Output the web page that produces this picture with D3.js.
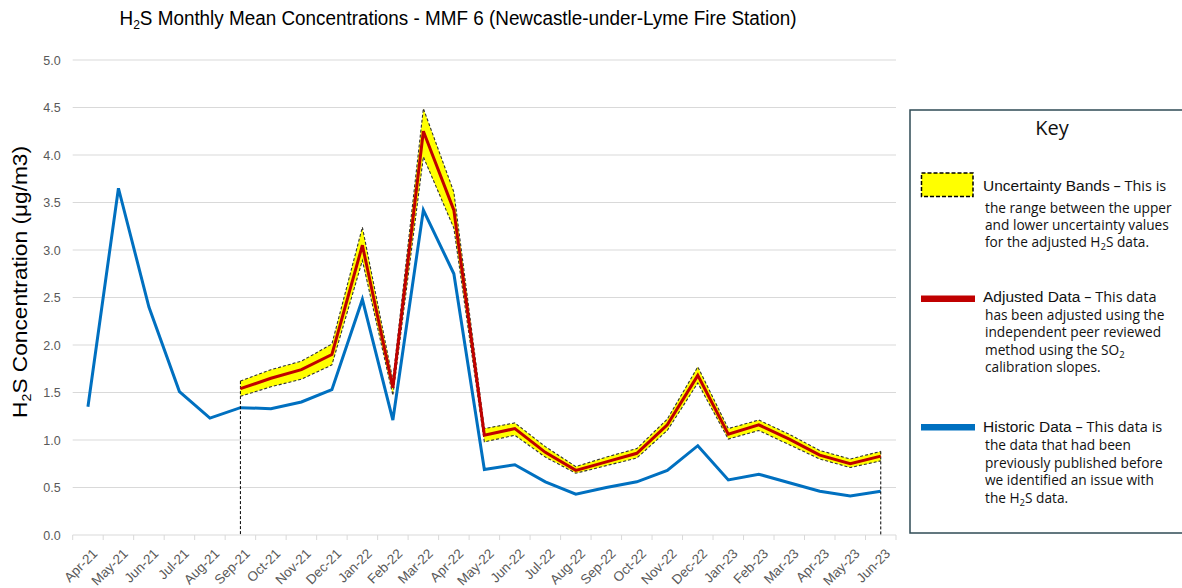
<!DOCTYPE html>
<html>
<head>
<meta charset="utf-8">
<script src="https://cdn.jsdelivr.net/npm/d3@7"></script>
<style>
  html, body { margin: 0; padding: 0; background: #fff; }
  svg { display: block; }
</style>
</head>
<body>
<svg id="chart" width="1182" height="588"></svg>
<script>
// Monthly mean H2S concentrations, MMF 6 (Newcastle-under-Lyme Fire Station)
const months = ["Apr-21","May-21","Jun-21","Jul-21","Aug-21","Sep-21","Oct-21","Nov-21","Dec-21",
  "Jan-22","Feb-22","Mar-22","Apr-22","May-22","Jun-22","Jul-22","Aug-22","Sep-22","Oct-22","Nov-22","Dec-22",
  "Jan-23","Feb-23","Mar-23","Apr-23","May-23","Jun-23"];

// Previously published (historic) values, µg/m3
const historic = [1.35,3.65,2.40,1.51,1.23,1.34,1.33,1.40,1.53,2.48,1.21,3.42,2.75,0.69,0.74,0.56,
  0.43,0.50,0.56,0.68,0.94,0.58,0.64,0.55,0.46,0.41,0.46];

// Adjusted values and uncertainty limits, available from Sep-21 onwards
const adjustedStart = "Sep-21";
const adjusted = [1.54,1.65,1.74,1.90,3.05,1.55,4.25,3.42,1.05,1.12,0.87,0.68,0.77,0.86,1.16,1.68,
  1.06,1.16,1.01,0.84,0.75,0.83];
const upper = [1.62,1.74,1.83,2.01,3.24,1.63,4.49,3.61,1.12,1.18,0.93,0.72,0.82,0.91,1.22,1.77,
  1.12,1.21,1.06,0.89,0.80,0.88];
const lower = [1.46,1.56,1.64,1.79,2.89,1.47,3.98,3.23,0.98,1.05,0.82,0.65,0.73,0.81,1.10,1.60,
  1.01,1.10,0.95,0.80,0.71,0.78];

const yTicks = [0,0.5,1,1.5,2,2.5,3,3.5,4,4.5,5];

const svg = d3.select("#chart");
const plot = { left: 72.7, right: 896, top: 60, bottom: 535 };

const x = d3.scaleBand().domain(months).range([plot.left, plot.right]).padding(0);
const cx = m => x(m) + x.bandwidth() / 2;
const y = d3.scaleLinear().domain([0, 5]).range([plot.bottom, plot.top]);

const startIdx = months.indexOf(adjustedStart);
const adjRows = adjusted.map((v, i) => ({
  m: months[startIdx + i], v, hi: upper[i], lo: lower[i]
}));
const histRows = historic.map((v, i) => ({ m: months[i], v }));

const axisFont = "Liberation Sans, Arial, sans-serif";

// Gridlines
svg.append("g")
  .selectAll("line").data(yTicks.filter(t => t > 0)).join("line")
  .attr("x1", plot.left).attr("x2", plot.right)
  .attr("y1", d => y(d)).attr("y2", d => y(d))
  .attr("stroke", "#d9d9d9").attr("stroke-width", 1);

// Y axis labels
const yAxis = svg.append("g")
  .attr("transform", `translate(${plot.left},0)`)
  .call(d3.axisLeft(y).tickValues(yTicks).tickFormat(d3.format(".1f")).tickSize(0).tickPadding(12));
yAxis.select(".domain").remove();
yAxis.selectAll("text")
  .attr("font-family", axisFont)
  .attr("font-size", 12.5).attr("fill", "#595959");

// X axis with tick marks at category boundaries
const xAxis = svg.append("g").attr("transform", `translate(0,${plot.bottom})`);
xAxis.append("line")
  .attr("x1", plot.left).attr("x2", plot.right)
  .attr("stroke", "#d9d9d9").attr("stroke-width", 1);
xAxis.selectAll("line.tick").data(months.concat([null])).join("line")
  .attr("class", "tick")
  .attr("x1", (d, i) => plot.left + i * x.bandwidth())
  .attr("x2", (d, i) => plot.left + i * x.bandwidth())
  .attr("y1", 0).attr("y2", 5)
  .attr("stroke", "#d9d9d9");
xAxis.selectAll("text").data(months).join("text")
  .attr("transform", d => `translate(${cx(d) + 7},${16}) rotate(-45)`)
  .attr("text-anchor", "end")
  .attr("dy", "0.35em")
  .attr("font-family", axisFont)
  .attr("font-size", 13.5).attr("fill", "#595959")
  .text(d => d);

// Historic series
svg.append("path")
  .datum(histRows)
  .attr("fill", "none")
  .attr("stroke", "#0070c0").attr("stroke-width", 3)
  .attr("d", d3.line().x(d => cx(d.m)).y(d => y(d.v)));

// Uncertainty band
svg.append("path")
  .datum(adjRows)
  .attr("fill", "#ffff00")
  .attr("d", d3.area().x(d => cx(d.m)).y0(d => y(d.lo)).y1(d => y(d.hi)));

[d => d.hi, d => d.lo].forEach(acc => {
  svg.append("path")
    .datum(adjRows)
    .attr("fill", "none")
    .attr("stroke", "#333").attr("stroke-width", 1.1)
    .attr("stroke-dasharray", "3,2")
    .attr("d", d3.line().x(d => cx(d.m)).y(d => y(acc(d))));
});
// Dashed drop lines at the ends of the adjusted period
[adjRows[0], adjRows[adjRows.length - 1]].forEach(d => {
  svg.append("line")
    .attr("x1", cx(d.m)).attr("x2", cx(d.m))
    .attr("y1", y(d.hi)).attr("y2", y(0))
    .attr("stroke", "#000").attr("stroke-width", 1)
    .attr("stroke-dasharray", "3,2");
});

// Adjusted series
svg.append("path")
  .datum(adjRows)
  .attr("fill", "none")
  .attr("stroke", "#c00000").attr("stroke-width", 3)
  .attr("d", d3.line().x(d => cx(d.m)).y(d => y(d.v)));

// Title
const title = svg.append("text")
  .attr("x", 458).attr("y", 25)
  .attr("text-anchor", "middle")
  .attr("font-family", axisFont)
  .attr("font-size", 19.5).attr("fill", "#000")
  .attr("textLength", 677).attr("lengthAdjust", "spacingAndGlyphs");
title.append("tspan").text("H");
title.append("tspan").attr("font-size", 12.5).attr("dy", 4).text("2");
title.append("tspan").attr("dy", -4).text("S Monthly Mean Concentrations - MMF 6 (Newcastle-under-Lyme Fire Station)");

// Y axis title
const yTitle = svg.append("text")
  .attr("transform", `translate(27,${282}) rotate(-90)`)
  .attr("text-anchor", "middle")
  .attr("font-family", axisFont)
  .attr("font-size", 20.5).attr("fill", "#000")
  .attr("textLength", 272).attr("lengthAdjust", "spacingAndGlyphs");
yTitle.append("tspan").text("H");
yTitle.append("tspan").attr("font-size", 13).attr("dy", 4).text("2");
yTitle.append("tspan").attr("dy", -4).text("S Concentration (μg/m3)");

// Key panel
const key = svg.append("g");
key.append("rect")
  .attr("x", 910).attr("y", 110).attr("width", 290).attr("height", 423)
  .attr("fill", "#fff").attr("stroke", "#2f4b55").attr("stroke-width", 1.5);
key.append("text")
  .attr("x", 1052).attr("y", 135).attr("text-anchor", "middle")
  .attr("font-family", "Open Sans, sans-serif").attr("font-size", 20).attr("fill", "#111")
  .text("Key");

const headFont = "Liberation Sans, Arial, sans-serif";
const bodyFont = "Open Sans, sans-serif";
const bodySize = 13.7;

// Each entry: heading, short lead-in, and wrapped description lines
const keyEntries = [
  { head: "Uncertainty Bands", tail: " – This is", headY: 191,
    lines: [["the range between the upper"], ["and lower uncertainty values"], ["for the adjusted H", "2", "S data."]],
    lineY: [213, 230, 247] },
  { head: "Adjusted Data", tail: " – This data", headY: 302,
    lines: [["has been adjusted using the"], ["independent peer reviewed"], ["method using the SO", "2", ""], ["calibration slopes."]],
    lineY: [320, 337, 355, 372] },
  { head: "Historic Data", tail: " – This data is", headY: 432,
    lines: [["the data that had been"], ["previously published before"], ["we identified an issue with"], ["the H", "2", "S data."]],
    lineY: [450, 468, 485, 503] }
];

// Swatches
key.append("rect")
  .attr("x", 921.5).attr("y", 173).attr("width", 51.5).attr("height", 23.5)
  .attr("fill", "#ffff00").attr("stroke", "#000").attr("stroke-width", 1.5)
  .attr("stroke-dasharray", "4,2");
key.append("rect")
  .attr("x", 921).attr("y", 295.5).attr("width", 54).attr("height", 6.5)
  .attr("fill", "#c00000");
key.append("rect")
  .attr("x", 921).attr("y", 424).attr("width", 54).attr("height", 6.5)
  .attr("fill", "#0070c0");

keyEntries.forEach(e => {
  const h = key.append("text").attr("x", 983).attr("y", e.headY).attr("fill", "#111");
  h.append("tspan").attr("font-family", headFont).attr("font-size", 15.5).text(e.head);
  h.append("tspan").attr("font-family", bodyFont).attr("font-size", 14.5).text(e.tail);
  e.lines.forEach((parts, i) => {
    const t = key.append("text").attr("x", 985).attr("y", e.lineY[i])
      .attr("font-family", bodyFont).attr("font-size", bodySize).attr("fill", "#111");
    t.append("tspan").text(parts[0]);
    if (parts.length > 1) {
      t.append("tspan").attr("font-size", 9.5).attr("dy", 3).text(parts[1]);
      if (parts[2]) t.append("tspan").attr("dy", -3).text(parts[2]);
    }
  });
});
</script>
</body>
</html>
